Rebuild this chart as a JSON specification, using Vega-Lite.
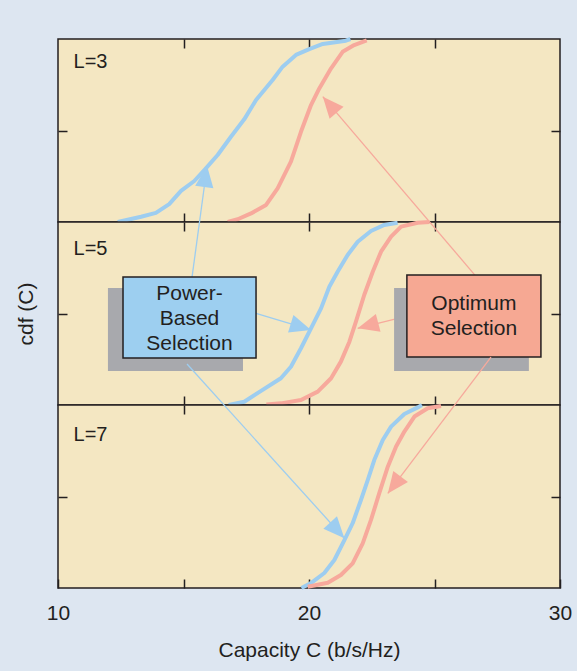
{
  "$schema": "https://vega.github.io/schema/vega-lite/v6.json",
  "background": "#dde6f1",
  "padding": {"left": 14, "top": 36, "right": 6, "bottom": 11},
  "spacing": 0,
  "bounds": "flush",
  "datasets": {
    "curves": [
      {"L": 3, "sel": "Power-Based", "C": 12.38, "p": 0},
      {"L": 3, "sel": "Power-Based", "C": 13.31, "p": 0.029},
      {"L": 3, "sel": "Power-Based", "C": 13.9, "p": 0.05},
      {"L": 3, "sel": "Power-Based", "C": 14.43, "p": 0.098},
      {"L": 3, "sel": "Power-Based", "C": 14.9, "p": 0.17},
      {"L": 3, "sel": "Power-Based", "C": 15.43, "p": 0.224},
      {"L": 3, "sel": "Power-Based", "C": 15.83, "p": 0.284},
      {"L": 3, "sel": "Power-Based", "C": 16.36, "p": 0.366},
      {"L": 3, "sel": "Power-Based", "C": 16.89, "p": 0.466},
      {"L": 3, "sel": "Power-Based", "C": 17.42, "p": 0.561},
      {"L": 3, "sel": "Power-Based", "C": 17.89, "p": 0.667},
      {"L": 3, "sel": "Power-Based", "C": 18.55, "p": 0.776},
      {"L": 3, "sel": "Power-Based", "C": 18.95, "p": 0.849},
      {"L": 3, "sel": "Power-Based", "C": 19.48, "p": 0.913},
      {"L": 3, "sel": "Power-Based", "C": 20.01, "p": 0.945},
      {"L": 3, "sel": "Power-Based", "C": 20.55, "p": 0.973},
      {"L": 3, "sel": "Power-Based", "C": 21.47, "p": 0.991},
      {"L": 3, "sel": "Power-Based", "C": 21.65, "p": 1},
      {"L": 3, "sel": "Optimum", "C": 16.76, "p": 0},
      {"L": 3, "sel": "Optimum", "C": 17.16, "p": 0.015},
      {"L": 3, "sel": "Optimum", "C": 17.69, "p": 0.047},
      {"L": 3, "sel": "Optimum", "C": 18.29, "p": 0.093},
      {"L": 3, "sel": "Optimum", "C": 18.75, "p": 0.184},
      {"L": 3, "sel": "Optimum", "C": 19.28, "p": 0.33},
      {"L": 3, "sel": "Optimum", "C": 19.68, "p": 0.493},
      {"L": 3, "sel": "Optimum", "C": 20.08, "p": 0.639},
      {"L": 3, "sel": "Optimum", "C": 20.41, "p": 0.73},
      {"L": 3, "sel": "Optimum", "C": 20.88, "p": 0.84},
      {"L": 3, "sel": "Optimum", "C": 21.34, "p": 0.93},
      {"L": 3, "sel": "Optimum", "C": 21.8, "p": 0.967},
      {"L": 3, "sel": "Optimum", "C": 22.3, "p": 0.992},
      {"L": 5, "sel": "Power-Based", "C": 16.8, "p": 0},
      {"L": 5, "sel": "Power-Based", "C": 17.42, "p": 0.018},
      {"L": 5, "sel": "Power-Based", "C": 18.09, "p": 0.077},
      {"L": 5, "sel": "Power-Based", "C": 18.88, "p": 0.146},
      {"L": 5, "sel": "Power-Based", "C": 19.28, "p": 0.209},
      {"L": 5, "sel": "Power-Based", "C": 19.68, "p": 0.31},
      {"L": 5, "sel": "Power-Based", "C": 20.08, "p": 0.419},
      {"L": 5, "sel": "Power-Based", "C": 20.48, "p": 0.528},
      {"L": 5, "sel": "Power-Based", "C": 20.81, "p": 0.646},
      {"L": 5, "sel": "Power-Based", "C": 21.14, "p": 0.728},
      {"L": 5, "sel": "Power-Based", "C": 21.54, "p": 0.82},
      {"L": 5, "sel": "Power-Based", "C": 21.94, "p": 0.892},
      {"L": 5, "sel": "Power-Based", "C": 22.47, "p": 0.951},
      {"L": 5, "sel": "Power-Based", "C": 23.0, "p": 0.984},
      {"L": 5, "sel": "Power-Based", "C": 23.53, "p": 0.996},
      {"L": 5, "sel": "Optimum", "C": 18.3, "p": 0.003},
      {"L": 5, "sel": "Optimum", "C": 18.88, "p": 0.009},
      {"L": 5, "sel": "Optimum", "C": 19.68, "p": 0.027},
      {"L": 5, "sel": "Optimum", "C": 20.35, "p": 0.073},
      {"L": 5, "sel": "Optimum", "C": 20.88, "p": 0.146},
      {"L": 5, "sel": "Optimum", "C": 21.27, "p": 0.237},
      {"L": 5, "sel": "Optimum", "C": 21.61, "p": 0.346},
      {"L": 5, "sel": "Optimum", "C": 21.87, "p": 0.455},
      {"L": 5, "sel": "Optimum", "C": 22.2, "p": 0.601},
      {"L": 5, "sel": "Optimum", "C": 22.54, "p": 0.728},
      {"L": 5, "sel": "Optimum", "C": 22.87, "p": 0.838},
      {"L": 5, "sel": "Optimum", "C": 23.27, "p": 0.92},
      {"L": 5, "sel": "Optimum", "C": 23.67, "p": 0.975},
      {"L": 5, "sel": "Optimum", "C": 24.33, "p": 0.996},
      {"L": 5, "sel": "Optimum", "C": 24.8, "p": 1},
      {"L": 7, "sel": "Power-Based", "C": 19.7, "p": 0},
      {"L": 7, "sel": "Power-Based", "C": 20.08, "p": 0.027},
      {"L": 7, "sel": "Power-Based", "C": 20.61, "p": 0.082},
      {"L": 7, "sel": "Power-Based", "C": 21.01, "p": 0.153},
      {"L": 7, "sel": "Power-Based", "C": 21.41, "p": 0.262},
      {"L": 7, "sel": "Power-Based", "C": 21.74, "p": 0.354},
      {"L": 7, "sel": "Power-Based", "C": 22.07, "p": 0.481},
      {"L": 7, "sel": "Power-Based", "C": 22.34, "p": 0.59},
      {"L": 7, "sel": "Power-Based", "C": 22.6, "p": 0.699},
      {"L": 7, "sel": "Power-Based", "C": 22.94, "p": 0.809},
      {"L": 7, "sel": "Power-Based", "C": 23.27, "p": 0.882},
      {"L": 7, "sel": "Power-Based", "C": 23.8, "p": 0.951},
      {"L": 7, "sel": "Power-Based", "C": 24.33, "p": 0.987},
      {"L": 7, "sel": "Power-Based", "C": 24.5, "p": 1},
      {"L": 7, "sel": "Optimum", "C": 19.95, "p": 0.007},
      {"L": 7, "sel": "Optimum", "C": 20.75, "p": 0.029},
      {"L": 7, "sel": "Optimum", "C": 21.27, "p": 0.071},
      {"L": 7, "sel": "Optimum", "C": 21.74, "p": 0.135},
      {"L": 7, "sel": "Optimum", "C": 22.14, "p": 0.244},
      {"L": 7, "sel": "Optimum", "C": 22.47, "p": 0.372},
      {"L": 7, "sel": "Optimum", "C": 22.8, "p": 0.518},
      {"L": 7, "sel": "Optimum", "C": 23.14, "p": 0.663},
      {"L": 7, "sel": "Optimum", "C": 23.47, "p": 0.773},
      {"L": 7, "sel": "Optimum", "C": 23.8, "p": 0.855},
      {"L": 7, "sel": "Optimum", "C": 24.2, "p": 0.937},
      {"L": 7, "sel": "Optimum", "C": 24.73, "p": 0.982},
      {"L": 7, "sel": "Optimum", "C": 25.26, "p": 0.995}
    ],
    "panels": [
      {"L": 3, "label": "L=3", "C": 10.62, "p": 0.877},
      {"L": 5, "label": "L=5", "C": 10.62, "p": 0.855},
      {"L": 7, "label": "L=7", "C": 10.62, "p": 0.835}
    ],
    "arrows": [
      {"host": "mid", "sel": "Power-Based", "C0": 15.34, "p0": 0.699, "C1": 15.94, "p1": 1.306, "angle": 7.7},
      {"host": "mid", "sel": "Power-Based", "C0": 17.89, "p0": 0.501, "C1": 20.08, "p1": 0.41, "angle": 107.2},
      {"host": "mid", "sel": "Optimum", "C0": 26.61, "p0": 0.71, "C1": 20.55, "p1": 1.685, "angle": -40.5},
      {"host": "mid", "sel": "Optimum", "C0": 23.9, "p0": 0.486, "C1": 21.94, "p1": 0.419, "angle": -104.8},
      {"host": "bot", "sel": "Power-Based", "C0": 15.14, "p0": 1.224, "C1": 21.41, "p1": 0.272, "angle": 137.9},
      {"host": "bot", "sel": "Optimum", "C0": 27.25, "p0": 1.262, "C1": 23.14, "p1": 0.517, "angle": -142.8}
    ],
    "boxes": [
      {"sel": "Power-Based", "text": "Power-\nBased\nSelection", "x0": 12.59, "x1": 17.89, "y0": 0.257, "y1": 0.699, "sx0": 11.99, "sx1": 17.37, "sy0": 0.186, "sy1": 0.639, "tx": 15.24, "ty": 0.604},
      {"sel": "Optimum", "text": "Optimum\nSelection", "x0": 23.9, "x1": 29.24, "y0": 0.262, "y1": 0.71, "sx0": 23.39, "sx1": 28.76, "sy0": 0.186, "sy1": 0.639, "tx": 26.57, "ty": 0.551}
    ]
  },
  "vconcat": [
    {
      "width": 502,
      "height": 183,
      "layer": [
        {
          "data": {"name": "curves"},
          "transform": [{"filter": "datum.L == 3"}],
          "mark": {"type": "line", "strokeWidth": 4, "strokeJoin": "round"},
          "encoding": {
            "x": {"field": "C", "type": "quantitative", "scale": {"domain": [10, 30], "nice": false, "zero": false}, "axis": {"orient": "bottom", "values": [15, 20, 25], "title": null}},
            "y": {"field": "p", "type": "quantitative", "scale": {"domain": [0, 1], "nice": false, "zero": false}, "axis": {"orient": "left", "values": [0.5], "title": null}},
            "color": {"field": "sel", "type": "nominal", "scale": {"domain": ["Power-Based", "Optimum"], "range": ["#9dcdf0", "#f7a99c"]}, "legend": null}
          }
        },
        {
          "data": {"name": "panels"},
          "transform": [{"filter": "datum.L == 3"}],
          "mark": {"type": "text", "align": "left", "baseline": "middle", "fontSize": 20, "font": "Liberation Sans", "color": "#231f20"},
          "encoding": {
            "x": {"field": "C", "type": "quantitative", "scale": {"domain": [10, 30], "nice": false, "zero": false}, "axis": {"orient": "top", "values": [15, 20, 25], "title": null}},
            "y": {"field": "p", "type": "quantitative", "scale": {"domain": [0, 1], "nice": false, "zero": false}, "axis": {"orient": "right", "values": [0.5], "title": null}},
            "text": {"field": "label"}
          }
        }
      ],
      "resolve": {"axis": {"x": "independent", "y": "independent"}}
    },
    {
      "width": 502,
      "height": 183,
      "layer": [
        {
          "data": {"name": "curves"},
          "transform": [{"filter": "datum.L == 5"}],
          "mark": {"type": "line", "strokeWidth": 4, "strokeJoin": "round"},
          "encoding": {
            "x": {"field": "C", "type": "quantitative", "scale": {"domain": [10, 30], "nice": false, "zero": false}, "axis": {"orient": "bottom", "values": [15, 20, 25], "title": null}},
            "y": {"field": "p", "type": "quantitative", "scale": {"domain": [0, 1], "nice": false, "zero": false}, "axis": {"orient": "left", "values": [0.5], "title": "cdf (C)", "titlePadding": 21}},
            "color": {"field": "sel", "type": "nominal", "scale": {"domain": ["Power-Based", "Optimum"], "range": ["#9dcdf0", "#f7a99c"]}, "legend": null}
          }
        },
        {
          "data": {"name": "panels"},
          "transform": [{"filter": "datum.L == 5"}],
          "mark": {"type": "text", "align": "left", "baseline": "middle", "fontSize": 20, "font": "Liberation Sans", "color": "#231f20"},
          "encoding": {
            "x": {"field": "C", "type": "quantitative", "scale": {"domain": [10, 30], "nice": false, "zero": false}, "axis": {"orient": "top", "values": [15, 20, 25], "title": null}},
            "y": {"field": "p", "type": "quantitative", "scale": {"domain": [0, 1], "nice": false, "zero": false}, "axis": {"orient": "right", "values": [0.5], "title": null}},
            "text": {"field": "label"}
          }
        },
        {
          "data": {"name": "arrows"},
          "transform": [{"filter": "datum.host == 'mid'"}],
          "mark": {"type": "rule", "strokeWidth": 1.3},
          "encoding": {
            "x": {"field": "C0", "type": "quantitative", "axis": null},
            "y": {"field": "p0", "type": "quantitative", "axis": null},
            "x2": {"field": "C1"},
            "y2": {"field": "p1"},
            "color": {"field": "sel", "type": "nominal", "legend": null}
          }
        },
        {
          "data": {"name": "arrows"},
          "transform": [{"filter": "datum.host == 'mid'"}],
          "mark": {"type": "point", "shape": "M0,0L1.3,3L-1.3,3Z", "size": 200, "filled": true, "opacity": 1, "strokeWidth": 0},
          "encoding": {
            "x": {"field": "C1", "type": "quantitative", "axis": null},
            "y": {"field": "p1", "type": "quantitative", "axis": null},
            "angle": {"field": "angle", "type": "quantitative", "scale": null},
            "color": {"field": "sel", "type": "nominal", "legend": null}
          }
        },
        {
          "data": {"name": "boxes"},
          "mark": {"type": "rect", "color": "#a8a9ad"},
          "encoding": {
            "x": {"field": "sx0", "type": "quantitative", "axis": null},
            "x2": {"field": "sx1"},
            "y": {"field": "sy0", "type": "quantitative", "axis": null},
            "y2": {"field": "sy1"}
          }
        },
        {
          "data": {"name": "boxes"},
          "mark": {"type": "rect", "stroke": "#231f20", "strokeWidth": 1.5, "fillOpacity": 1},
          "encoding": {
            "x": {"field": "x0", "type": "quantitative", "axis": null},
            "x2": {"field": "x1"},
            "y": {"field": "y0", "type": "quantitative", "axis": null},
            "y2": {"field": "y1"},
            "fill": {"field": "sel", "type": "nominal", "scale": {"domain": ["Power-Based", "Optimum"], "range": ["#9dcff0", "#f6a893"]}, "legend": null}
          }
        },
        {
          "data": {"name": "boxes"},
          "mark": {"type": "text", "align": "center", "baseline": "middle", "lineBreak": "\n", "lineHeight": 25, "fontSize": 21, "font": "Liberation Sans", "color": "#231f20"},
          "encoding": {
            "x": {"field": "tx", "type": "quantitative", "axis": null},
            "y": {"field": "ty", "type": "quantitative", "axis": null},
            "text": {"field": "text"}
          }
        }
      ],
      "resolve": {"axis": {"x": "independent", "y": "independent"}}
    },
    {
      "width": 502,
      "height": 183,
      "layer": [
        {
          "data": {"name": "curves"},
          "transform": [{"filter": "datum.L == 7"}],
          "mark": {"type": "line", "strokeWidth": 4, "strokeJoin": "round"},
          "encoding": {
            "x": {"field": "C", "type": "quantitative", "scale": {"domain": [10, 30], "nice": false, "zero": false}, "axis": {"orient": "bottom", "values": [10, 15, 20, 25, 30], "labels": true, "labelExpr": "datum.value == 15 || datum.value == 25 ? '' : datum.label", "labelPadding": 23, "title": "Capacity C (b/s/Hz)", "titlePadding": 16}},
            "y": {"field": "p", "type": "quantitative", "scale": {"domain": [0, 1], "nice": false, "zero": false}, "axis": {"orient": "left", "values": [0.5], "title": null}},
            "color": {"field": "sel", "type": "nominal", "scale": {"domain": ["Power-Based", "Optimum"], "range": ["#9dcdf0", "#f7a99c"]}, "legend": null}
          }
        },
        {
          "data": {"name": "panels"},
          "transform": [{"filter": "datum.L == 7"}],
          "mark": {"type": "text", "align": "left", "baseline": "middle", "fontSize": 20, "font": "Liberation Sans", "color": "#231f20"},
          "encoding": {
            "x": {"field": "C", "type": "quantitative", "scale": {"domain": [10, 30], "nice": false, "zero": false}, "axis": {"orient": "top", "values": [15, 20, 25], "title": null}},
            "y": {"field": "p", "type": "quantitative", "scale": {"domain": [0, 1], "nice": false, "zero": false}, "axis": {"orient": "right", "values": [0.5], "title": null}},
            "text": {"field": "label"}
          }
        },
        {
          "data": {"name": "arrows"},
          "transform": [{"filter": "datum.host == 'bot'"}],
          "mark": {"type": "rule", "strokeWidth": 1.3},
          "encoding": {
            "x": {"field": "C0", "type": "quantitative", "axis": null},
            "y": {"field": "p0", "type": "quantitative", "axis": null},
            "x2": {"field": "C1"},
            "y2": {"field": "p1"},
            "color": {"field": "sel", "type": "nominal", "legend": null}
          }
        },
        {
          "data": {"name": "arrows"},
          "transform": [{"filter": "datum.host == 'bot'"}],
          "mark": {"type": "point", "shape": "M0,0L1.3,3L-1.3,3Z", "size": 200, "filled": true, "opacity": 1, "strokeWidth": 0},
          "encoding": {
            "x": {"field": "C1", "type": "quantitative", "axis": null},
            "y": {"field": "p1", "type": "quantitative", "axis": null},
            "angle": {"field": "angle", "type": "quantitative", "scale": null},
            "color": {"field": "sel", "type": "nominal", "legend": null}
          }
        }
      ],
      "resolve": {"axis": {"x": "independent", "y": "independent"}}
    }
  ],
  "config": {
    "view": {"fill": "#f4e7c2", "stroke": "#231f20", "strokeWidth": 1.5},
    "axis": {
      "domain": false,
      "grid": false,
      "labels": false,
      "ticks": true,
      "tickSize": -9,
      "tickColor": "#231f20",
      "tickWidth": 1.5,
      "minExtent": 0,
      "labelFlush": false,
      "labelFont": "Liberation Sans",
      "labelFontSize": 21,
      "labelColor": "#231f20",
      "titleFont": "Liberation Sans",
      "titleFontSize": 21,
      "titleFontWeight": "normal",
      "titleColor": "#231f20"
    }
  }
}
